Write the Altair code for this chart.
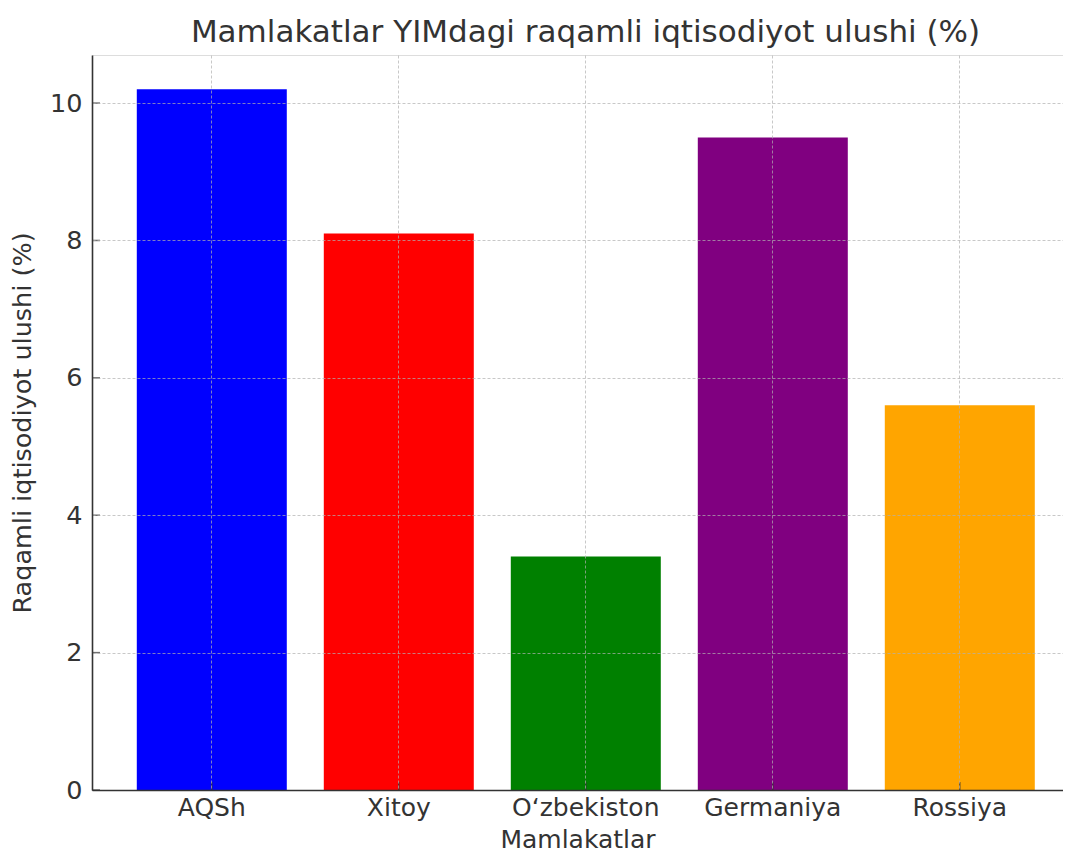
import altair as alt
import pandas as pd

countries = ["AQSh", "Xitoy", "O\u2018zbekiston", "Germaniya", "Rossiya"]
shares = [10.2, 8.1, 3.4, 9.5, 5.6]
colors = ["#0000ff", "#ff0000", "#008000", "#800080", "#ffa500"]
y_ticks = [0, 2, 4, 6, 8, 10]

df = pd.DataFrame({"country": countries, "share": shares, "color": colors})
df_base = pd.DataFrame({"country": countries, "zero": [0] * len(countries)})
df_yt = pd.DataFrame({"tick": y_ticks})

FONT = "DejaVu Sans"
TXT = "#333333"
GRID = dict(grid=True, gridColor="#b0b0b0", gridOpacity=0.7, gridDash=[3, 2],
            gridWidth=1, zindex=1, ticks=False, domainColor="#333333", domainWidth=1.6)

x_enc = alt.X(
    "country:N",
    sort=countries,
    title="Mamlakatlar",
    scale=alt.Scale(paddingInner=0.2, paddingOuter=0.19626, align=0.613),
    axis=alt.Axis(
        labelAngle=0,
        labelFontSize=25,
        labelFont=FONT,
        labelColor=TXT,
        labelPadding=5,
        titleFontSize=25,
        titleFont=FONT,
        titleFontWeight="normal",
        titleColor=TXT,
        titleBaseline="alphabetic",
        titleY=57,
        **GRID,
    ),
)
y_scale = alt.Scale(domain=[0, 10.7], nice=False, zero=True)

bars = alt.Chart(df).mark_bar(size=150).encode(
    x=x_enc,
    y=alt.Y(
        "share:Q",
        title="Raqamli iqtisodiyot ulushi (%)",
        scale=y_scale,
        axis=alt.Axis(
            values=y_ticks,
            format="d",
            labelFontSize=25.5,
            labelFont=FONT,
            labelColor=TXT,
            labelPadding=10,
            titleFontSize=25.5,
            titleFont=FONT,
            titleFontWeight="normal",
            titleColor=TXT,
            titlePadding=14,
            **GRID,
        ),
    ),
    color=alt.Color("color:N", scale=None, legend=None),
)

xticks = alt.Chart(df_base).mark_tick(orient="vertical", size=8, thickness=1.5, color="#333333", yOffset=-4).encode(
    x=alt.X("country:N", sort=countries),
    y=alt.Y("zero:Q", scale=y_scale),
)

yticks = alt.Chart(df_yt).mark_tick(orient="horizontal", size=8, thickness=1.5, color="#333333").encode(
    x=alt.value(4),
    y=alt.Y("tick:Q", scale=y_scale),
)

chart = alt.layer(bars, xticks, yticks).properties(
    width=971,
    height=735,
    title=alt.TitleParams(
        "Mamlakatlar YIMdagi raqamli iqtisodiyot ulushi (%)",
        fontSize=31,
        font=FONT,
        fontWeight="normal",
        color=TXT,
        anchor="middle",
        offset=6,
        dx=8,
    ),
    autosize=alt.AutoSizeParams(type="none"),
    padding={"left": 84, "top": 47, "right": 0, "bottom": 62},
).configure_view(stroke=None).configure(background="white")

chart.save("out.html", embed_options={"renderer": "svg", "actions": False})
